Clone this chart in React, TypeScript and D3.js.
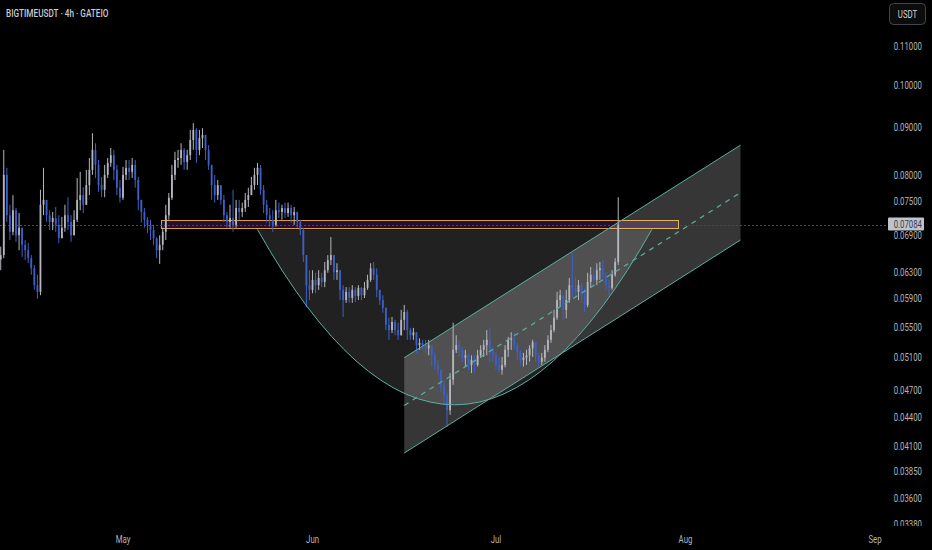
import React from "react";
import * as d3 from "d3";

// ---- candle data (12h aggregation) ----
const closes = [
  0.0657, 0.0801, 0.0725, 0.0696, 0.0734, 0.0690, 0.0703, 0.0674, 0.0665, 0.0652,
  0.0636, 0.0610, 0.0600, 0.0744, 0.0753, 0.0725, 0.0713, 0.0720, 0.0708, 0.0685,
  0.0703, 0.0725, 0.0713, 0.0690, 0.0717, 0.0753, 0.0762, 0.0744, 0.0781, 0.0811,
  0.0852, 0.0821, 0.0781, 0.0772, 0.0801, 0.0825, 0.0841, 0.0811, 0.0776, 0.0757,
  0.0801, 0.0815, 0.0807, 0.0821, 0.0791, 0.0753, 0.0731, 0.0717, 0.0708, 0.0699,
  0.0685, 0.0665, 0.0674, 0.0696, 0.0725, 0.0757, 0.0801, 0.0831, 0.0835, 0.0852,
  0.0827, 0.0841, 0.0873, 0.0895, 0.0852, 0.0877, 0.0884, 0.0852, 0.0821, 0.0781,
  0.0762, 0.0781, 0.0753, 0.0725, 0.0713, 0.0720, 0.0708, 0.0738, 0.0731, 0.0738,
  0.0753, 0.0762, 0.0781, 0.0801, 0.0815, 0.0772, 0.0744, 0.0725, 0.0717, 0.0708,
  0.0734, 0.0731, 0.0738, 0.0729, 0.0738, 0.0725, 0.0731, 0.0713, 0.0699, 0.0657,
  0.0610, 0.0603, 0.0618, 0.0610, 0.0621, 0.0615, 0.0633, 0.0649, 0.0657, 0.0630,
  0.0633, 0.0603, 0.0588, 0.0600, 0.0591, 0.0603, 0.0594, 0.0606, 0.0595, 0.0606,
  0.0618, 0.0636, 0.0626, 0.0603, 0.0588, 0.0577, 0.0553, 0.0546, 0.0557, 0.0546,
  0.0539, 0.0560, 0.0571, 0.0546, 0.0539, 0.0543, 0.0526, 0.0529, 0.0526, 0.0522,
  0.0526, 0.0513, 0.0501, 0.0495, 0.0477, 0.0465, 0.0448, 0.0483, 0.0520, 0.0526,
  0.0520, 0.0510, 0.0513, 0.0501, 0.0507, 0.0501, 0.0513, 0.0520, 0.0526, 0.0533,
  0.0520, 0.0513, 0.0501, 0.0495, 0.0501, 0.0520, 0.0533, 0.0535, 0.0526, 0.0517,
  0.0507, 0.0510, 0.0513, 0.0522, 0.0530, 0.0513, 0.0505, 0.0510, 0.0520, 0.0533,
  0.0546, 0.0563, 0.0588, 0.0595, 0.0574, 0.0588, 0.0610, 0.0606, 0.0600, 0.0610,
  0.0595, 0.0581, 0.0615, 0.0626, 0.0618, 0.0633, 0.0636, 0.0626, 0.0610, 0.0606,
  0.0626, 0.0646, 0.07084,
];

const highs = [
  0.0671, 0.0852, 0.0815, 0.0744, 0.0762, 0.0738, 0.0729, 0.0703, 0.0682, 0.0677,
  0.0657, 0.0641, 0.0626, 0.0772, 0.0815, 0.0753, 0.0734, 0.0731, 0.0740, 0.0725,
  0.0722, 0.0744, 0.0758, 0.0725, 0.0734, 0.0795, 0.0807, 0.0777, 0.0811, 0.0835,
  0.0888, 0.0866, 0.0831, 0.0797, 0.0821, 0.0835, 0.0856, 0.0852, 0.0821, 0.0791,
  0.0817, 0.0831, 0.0831, 0.0835, 0.0831, 0.0797, 0.0748, 0.0738, 0.0722, 0.0717,
  0.0708, 0.0687, 0.0690, 0.0703, 0.0744, 0.0766, 0.0821, 0.0848, 0.0852, 0.0866,
  0.0856, 0.0852, 0.0895, 0.0910, 0.0899, 0.0895, 0.0899, 0.0877, 0.0862, 0.0821,
  0.0801, 0.0791, 0.0781, 0.0762, 0.0731, 0.0744, 0.0772, 0.0753, 0.0753, 0.0748,
  0.0766, 0.0776, 0.0797, 0.0815, 0.0825, 0.0821, 0.0781, 0.0753, 0.0738, 0.0734,
  0.0753, 0.0748, 0.0744, 0.0748, 0.0748, 0.0744, 0.0740, 0.0731, 0.0717, 0.0703,
  0.0657, 0.0633, 0.0633, 0.0629, 0.0633, 0.0629, 0.0646, 0.0657, 0.0687, 0.0657,
  0.0644, 0.0633, 0.0610, 0.0607, 0.0607, 0.0610, 0.0607, 0.0610, 0.0607, 0.0615,
  0.0626, 0.0644, 0.0646, 0.0636, 0.0603, 0.0595, 0.0574, 0.0563, 0.0564, 0.0560,
  0.0556, 0.0574, 0.0581, 0.0574, 0.0549, 0.0549, 0.0542, 0.0535, 0.0533, 0.0533,
  0.0533, 0.0526, 0.0517, 0.0507, 0.0495, 0.0483, 0.0468, 0.0491, 0.0556, 0.0539,
  0.0533, 0.0524, 0.0520, 0.0516, 0.0513, 0.0513, 0.0520, 0.0526, 0.0533, 0.0546,
  0.0549, 0.0524, 0.0517, 0.0510, 0.0511, 0.0526, 0.0537, 0.0543, 0.0542, 0.0529,
  0.0520, 0.0516, 0.0520, 0.0526, 0.0533, 0.0530, 0.0516, 0.0516, 0.0526, 0.0539,
  0.0553, 0.0574, 0.0600, 0.0603, 0.0595, 0.0603, 0.0621, 0.0660, 0.0623, 0.0618,
  0.0613, 0.0606, 0.0629, 0.0638, 0.0636, 0.0644, 0.0646, 0.0649, 0.0630, 0.0618,
  0.0633, 0.0652, 0.0758,
];

const lows = [
  0.0633, 0.0652, 0.0713, 0.0682, 0.0690, 0.0679, 0.0665, 0.0654, 0.0649, 0.0644,
  0.0626, 0.0603, 0.0590, 0.0595, 0.0725, 0.0713, 0.0699, 0.0699, 0.0696, 0.0677,
  0.0687, 0.0696, 0.0699, 0.0679, 0.0699, 0.0713, 0.0734, 0.0729, 0.0744, 0.0762,
  0.0801, 0.0795, 0.0768, 0.0758, 0.0758, 0.0795, 0.0817, 0.0791, 0.0762, 0.0748,
  0.0753, 0.0791, 0.0791, 0.0795, 0.0776, 0.0734, 0.0712, 0.0703, 0.0694, 0.0682,
  0.0674, 0.0652, 0.0643, 0.0665, 0.0682, 0.0717, 0.0753, 0.0791, 0.0815, 0.0821,
  0.0811, 0.0811, 0.0831, 0.0852, 0.0825, 0.0841, 0.0856, 0.0831, 0.0811, 0.0753,
  0.0748, 0.0753, 0.0744, 0.0713, 0.0703, 0.0703, 0.0696, 0.0703, 0.0717, 0.0722,
  0.0731, 0.0740, 0.0762, 0.0772, 0.0781, 0.0762, 0.0729, 0.0712, 0.0705, 0.0696,
  0.0705, 0.0720, 0.0717, 0.0720, 0.0722, 0.0712, 0.0708, 0.0703, 0.0690, 0.0646,
  0.0578, 0.0588, 0.0598, 0.0598, 0.0603, 0.0607, 0.0607, 0.0629, 0.0641, 0.0618,
  0.0618, 0.0588, 0.0564, 0.0584, 0.0584, 0.0584, 0.0585, 0.0588, 0.0588, 0.0591,
  0.0603, 0.0615, 0.0618, 0.0592, 0.0581, 0.0570, 0.0546, 0.0533, 0.0542, 0.0539,
  0.0533, 0.0539, 0.0546, 0.0533, 0.0533, 0.0533, 0.0516, 0.0520, 0.0520, 0.0516,
  0.0513, 0.0499, 0.0495, 0.0489, 0.0468, 0.0454, 0.0430, 0.0443, 0.0477, 0.0516,
  0.0511, 0.0504, 0.0499, 0.0495, 0.0491, 0.0492, 0.0499, 0.0510, 0.0511, 0.0513,
  0.0505, 0.0504, 0.0495, 0.0491, 0.0489, 0.0498, 0.0511, 0.0520, 0.0520, 0.0507,
  0.0501, 0.0499, 0.0501, 0.0505, 0.0511, 0.0505, 0.0499, 0.0501, 0.0505, 0.0517,
  0.0529, 0.0543, 0.0560, 0.0578, 0.0560, 0.0562, 0.0584, 0.0592, 0.0591, 0.0588,
  0.0584, 0.0571, 0.0578, 0.0606, 0.0607, 0.0610, 0.0618, 0.0615, 0.0603, 0.0595,
  0.0603, 0.0623, 0.0641,
];

const firstOpen = 0.065;
const candleStart = "2024-04-11T00:00:00Z";
const candleHours = 12;
const lastPrice = 0.07084;

// ---- axes ----
const priceTicks = [0.11, 0.1, 0.09, 0.08, 0.075, 0.069, 0.063, 0.059, 0.055, 0.051, 0.047, 0.044, 0.041, 0.0385, 0.036, 0.0338];
const monthTicks = ["2024-05-01", "2024-06-01", "2024-07-01", "2024-08-01", "2024-09-01"];
const monthLabels = ["May", "Jun", "Jul", "Aug", "Sep"];
const title = "BIGTIMEUSDT · 4h · GATEIO";
const currency = "USDT";

// ---- drawings (in data coordinates) ----
const bandDates = ["2024-05-07T05:00:00Z", "2024-07-30T19:00:00Z"];
const bandPrices = [0.0717, 0.07];
const channelDates = ["2024-06-16T00:00:00Z", "2024-08-10T00:00:00Z"];
const channelUpper = [0.051, 0.0862];
const channelLower = [0.0403, 0.0682];
const cupDates = ["2024-05-23T00:00:00Z", "2024-07-26T12:00:00Z"];
const cupRim = 0.07;
const cupBottom = 0.0454;

const W = 932;
const H = 550;
const UP = "#b5b7be";
const DOWN = "#3d60c8";
const TEAL = "#5bb0a4";
const TXT = "#b2b5be";
const FONT = "Roboto, 'Noto Sans', sans-serif";
const SX = 0.78;

export default function App() {
  const x = d3
    .scaleUtc()
    .domain([new Date(monthTicks[0]), new Date(monthTicks[monthTicks.length - 1])])
    .range([123, 875]);
  const y = d3.scaleLog().domain([0.1, 0.05]).range([85, 85 + 405 * Math.LN2]);

  const t0 = new Date(candleStart).getTime();
  const candles = closes.map((c, i) => {
    const o = i === 0 ? firstOpen : closes[i - 1];
    const h = Math.max(highs[i], o, c);
    const l = Math.min(lows[i], o, c);
    const cx = x(new Date(t0 + i * candleHours * 3600 * 1000));
    return { o, h, l, c, cx };
  });

  // cup (quadratic arc)
  const cx0 = x(new Date(cupDates[0]));
  const cx1 = x(new Date(cupDates[1]));
  const cyRim = y(cupRim);
  const cyBot = y(cupBottom);
  const ctrlY = 2 * cyBot - cyRim;
  const cxm = (cx0 + cx1) / 2;
  const cupArc = `M${cx0},${cyRim} Q${cxm},${ctrlY} ${cx1},${cyRim}`;

  // channel
  const chx0 = x(new Date(channelDates[0]));
  const chx1 = x(new Date(channelDates[1]));
  const u0 = y(channelUpper[0]);
  const u1 = y(channelUpper[1]);
  const l0 = y(channelLower[0]);
  const l1 = y(channelLower[1]);
  const channelPoly = `M${chx0},${u0} L${chx1},${u1} L${chx1},${l1} L${chx0},${l0} Z`;

  // band (snapped to the pixel grid)
  const bx0 = Math.round(x(new Date(bandDates[0]))) + 0.5;
  const bx1 = Math.round(x(new Date(bandDates[1]))) + 0.5;
  const by0 = Math.round(y(bandPrices[0])) + 0.5;
  const by1 = Math.round(y(bandPrices[1])) - 0.5;

  const py = y(lastPrice);
  const pyS = Math.round(py) + 0.5;

  return (
    <svg
      width={W}
      height={H}
      style={{ position: "fixed", left: 0, top: 0, display: "block" }}
      fontFamily={FONT}
    >
      <defs>
        <clipPath id="plot">
          <rect x={0} y={0} width={886} height={527} />
        </clipPath>
        <clipPath id="paxis">
          <rect x={886} y={0} width={46} height={526} />
        </clipPath>
      </defs>
      <rect x={0} y={0} width={W} height={H} fill="#000" />

      <g clipPath="url(#plot)">
        {/* cup fill */}
        <path d={cupArc + " Z"} fill="rgba(255,255,255,0.13)" />
        {/* band */}
        <rect
          x={bx0}
          y={by0}
          width={bx1 - bx0}
          height={by1 - by0}
          fill="rgba(105,40,140,0.35)"
          stroke="#dba033"
          strokeWidth={1}
        />
        {/* channel fill */}
        <path d={channelPoly} fill="rgba(255,255,255,0.21)" />

        {/* last price line */}
        <line x1={0} x2={887} y1={pyS} y2={pyS} stroke="#4a4a4a" strokeDasharray="2,2" strokeWidth={1} />

        {/* candles */}
        {candles.map((d, i) => {
          const col = d.c >= d.o ? UP : DOWN;
          const top = y(Math.max(d.o, d.c));
          const bot = y(Math.min(d.o, d.c));
          return (
            <g key={i}>
              <line x1={d.cx} x2={d.cx} y1={y(d.h)} y2={y(d.l)} stroke={col} strokeWidth={1} />
              <rect x={d.cx - 0.9} y={top} width={1.8} height={Math.max(1, bot - top)} fill={col} />
            </g>
          );
        })}

        {/* outlines */}
        <path d={cupArc} fill="none" stroke={TEAL} strokeWidth={1} />
        <line x1={chx0} y1={u0} x2={chx1} y2={u1} stroke={TEAL} strokeWidth={1} />
        <line x1={chx0} y1={l0} x2={chx1} y2={l1} stroke={TEAL} strokeWidth={1} />
        <line
          x1={chx0}
          y1={(u0 + l0) / 2}
          x2={chx1}
          y2={(u1 + l1) / 2}
          stroke={TEAL}
          strokeWidth={1.2}
          strokeDasharray="5,5"
        />
      </g>

      {/* title */}
      <text transform={`translate(6,17) scale(${SX},1)`} fill="#c8cbd3" fontSize={10.5} fontWeight={500}>
        {title}
      </text>

      {/* price axis */}
      <g clipPath="url(#paxis)">
        {priceTicks.map((p) => (
          <text
            key={p}
            transform={`translate(922,${y(p)}) scale(${SX},1)`}
            textAnchor="end"
            dy="0.35em"
            fill={TXT}
            fontSize={10}
          >
            {p.toFixed(5)}
          </text>
        ))}
      </g>

      {/* current price label */}
      <rect x={888} y={py - 7} width={36} height={13} fill="#bfc3cc" rx={1} />
      <text
        transform={`translate(922,${py}) scale(${SX},1)`}
        textAnchor="end"
        dy="0.35em"
        fill="#3a3d45"
        fontSize={10}
      >
        {lastPrice.toFixed(5)}
      </text>

      {/* currency button */}
      <rect x={889.5} y={3.5} width={36} height={21} rx={4} fill="#0c0c0c" stroke="#434651" />
      <text
        transform={`translate(907.5,14) scale(${SX},1)`}
        textAnchor="middle"
        dy="0.35em"
        fill="#d1d4dc"
        fontSize={10}
      >
        {currency}
      </text>

      {/* time axis */}
      {monthTicks.map((m, i) => (
        <text
          key={m}
          transform={`translate(${x(new Date(m))},539) scale(${SX},1)`}
          textAnchor="middle"
          dy="0.35em"
          fill={TXT}
          fontSize={10}
        >
          {monthLabels[i]}
        </text>
      ))}
    </svg>
  );
}
